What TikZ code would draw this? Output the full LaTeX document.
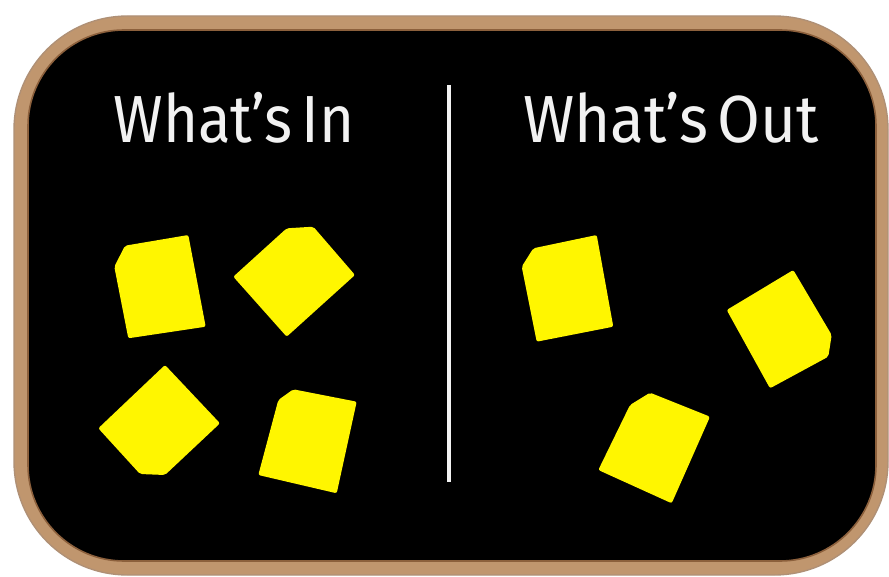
\documentclass[tikz,border=0pt]{standalone}
\usepackage{fontspec}
\setmainfont{Fira Sans}
\definecolor{wood}{RGB}{192,150,110}
\definecolor{wooddark}{RGB}{140,96,60}
\definecolor{note}{RGB}{255,246,0}
\definecolor{chalk}{RGB}{242,242,242}
\tikzset{
  notefill/.style={fill=note, rounded corners=1.5pt},
  title/.style={text=chalk, font=\fontsize{50}{60}\selectfont, anchor=base, inner sep=0pt},
}
\begin{document}
\begin{tikzpicture}[x=0.75pt,y=-0.75pt]
\useasboundingbox (0,0) rectangle (889,577);
\fill[white] (0,0) rectangle (889,577);
% frame
\fill[wood, draw=wooddark!70, line width=1pt, rounded corners=85] (14,16) rectangle (888,575);
\fill[black, draw=wooddark, line width=1.2pt, rounded corners=72] (28,30) rectangle (876,561);
% titles
\node[title] (in) at (234,143) {\scalebox{0.9}[1]{What’s\hspace{0.15em}In}};
\node[title] (out) at (671,143) {\scalebox{0.93}[1]{What’s\hspace{0.15em}Out}};
% divider
\coordinate (dtop) at (449,85);
\coordinate (dbot) at (449,482);
\draw[chalk, line width=2.4pt] (dtop) -- (dbot);
% notes left
\fill[notefill] (125,245.7) -- (188.3,235) -- (205.7,326.7) -- (128.3,338.3) -- (114.3,266.7) -- cycle;
\fill[notefill] (286.7,228.3) -- (313.3,226.7) -- (355,275) -- (286.7,336.7) -- (233.3,276.7) -- cycle;
\fill[notefill] (98.3,428.3) -- (165,365) -- (220,423.3) -- (165,475) -- (140,474) -- cycle;
\fill[notefill] (278.3,400) -- (293.3,389.3) -- (356.7,401.7) -- (336.7,493.3) -- (258.3,475) -- cycle;
% notes right
\fill[notefill] (521.7,266.7) -- (533.3,248.3) -- (596.7,235) -- (613.3,326.7) -- (536.7,341.7) -- cycle;
\fill[notefill] (793.3,270) -- (831.7,335) -- (828.3,356.7) -- (770,388.3) -- (726.7,310) -- cycle;
\fill[notefill] (630,405) -- (650,392.7) -- (710,416.7) -- (671.7,503.3) -- (598.3,470) -- cycle;
\end{tikzpicture}
\end{document}
